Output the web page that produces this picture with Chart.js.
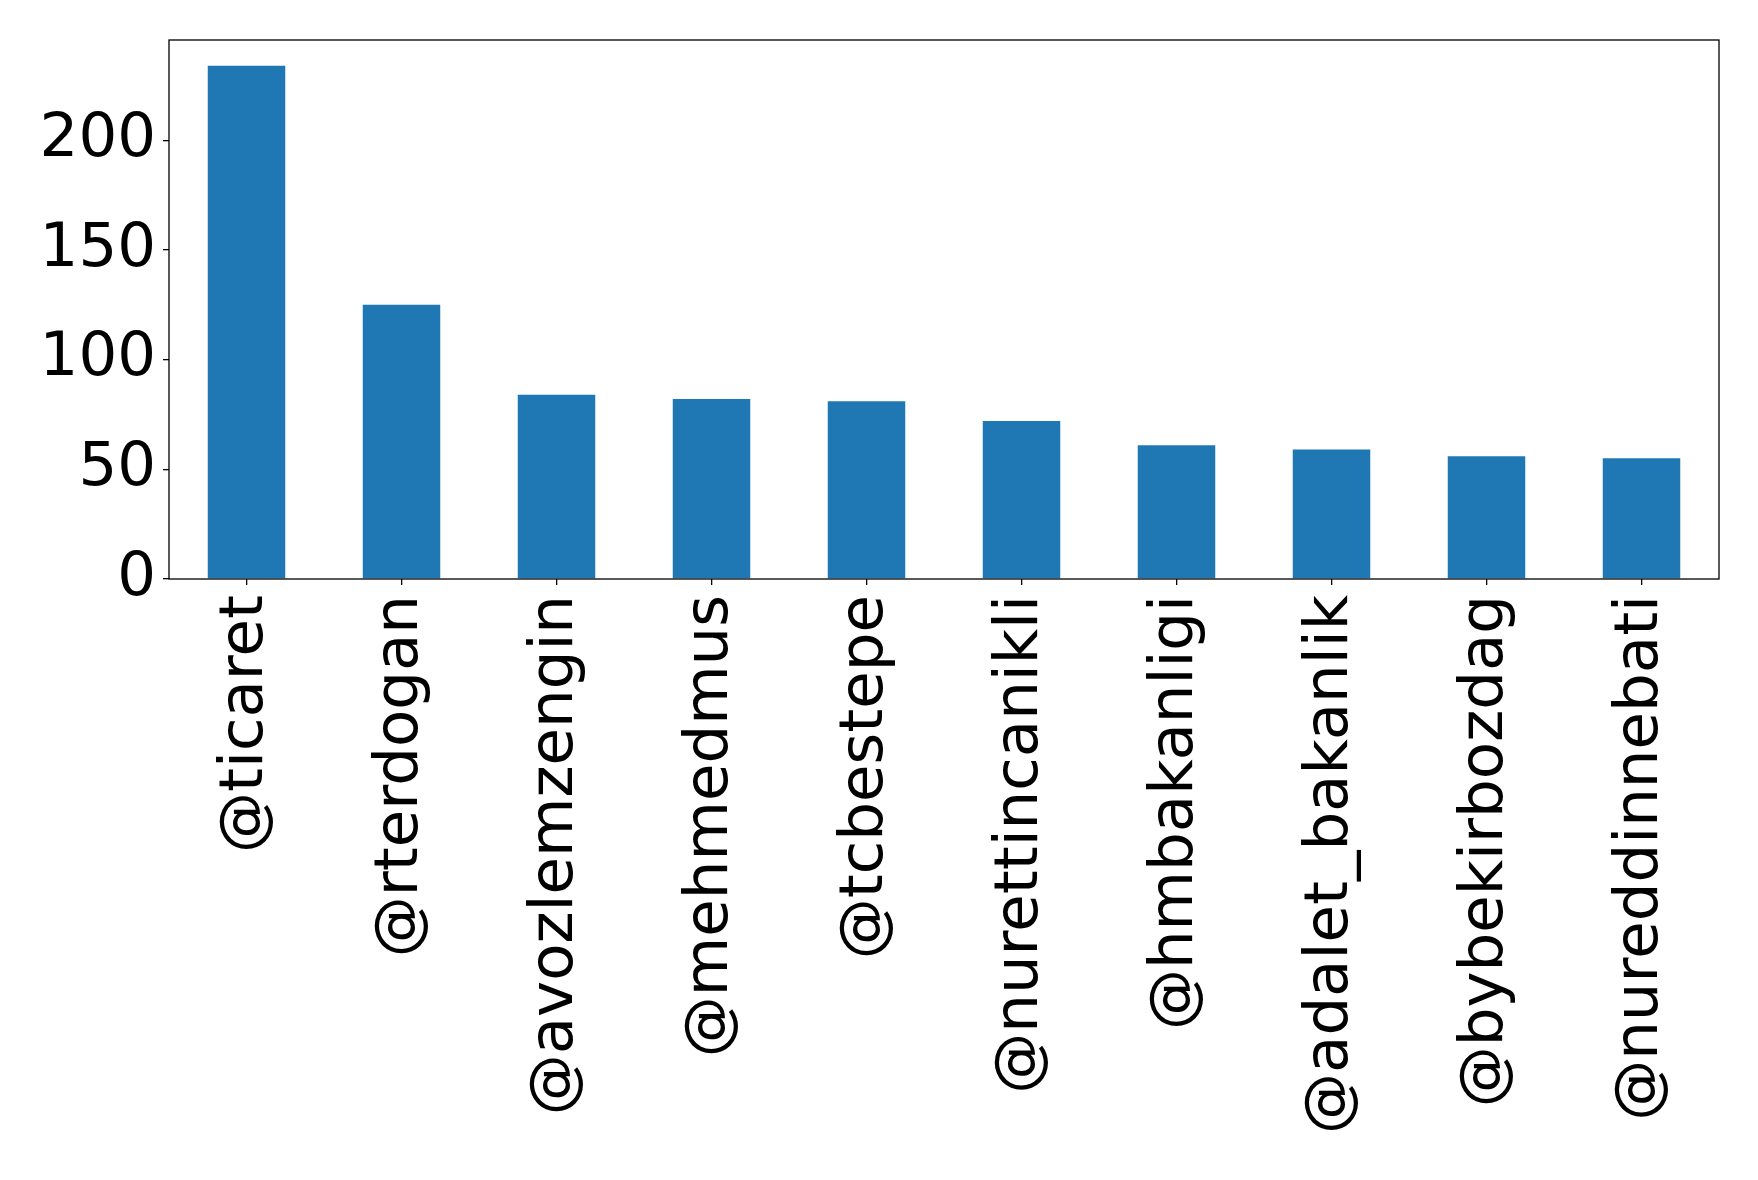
<!DOCTYPE html>
<html>
<head>
<meta charset="utf-8">
<script src="https://cdn.jsdelivr.net/npm/chart.js@4.4.0/dist/chart.umd.min.js"></script>
<style>
  html, body { margin: 0; padding: 0; background: #fff; }
  #wrap { width: 1758px; height: 1180px; }
</style>
</head>
<body>
<div id="wrap"><canvas id="chart" width="1758" height="1180"></canvas></div>
<script>
// accounts and mention counts
const accounts = ['@ticaret', '@rterdogan', '@avozlemzengin', '@mehmedmus', '@tcbestepe',
    '@nurettincanikli', '@hmbakanligi', '@adalet_bakanlik', '@bybekirbozdag', '@nureddinnebati'];
const counts = [234, 125, 84, 82, 81, 72, 61, 59, 56, 55];
const yTicks = [0, 50, 100, 150, 200];

const FONT = { family: 'DejaVu Sans', size: 61 };

// black frame round the plot area
const frame = {
    id: 'frame',
    afterDatasetsDraw(chart) {
        const a = chart.chartArea;
        const ctx = chart.ctx;
        ctx.save();
        ctx.strokeStyle = '#000';
        ctx.lineWidth = 1.3;
        ctx.strokeRect(a.left, a.top, a.right - a.left, a.bottom - a.top);
        ctx.restore();
    }
};

new Chart(document.getElementById('chart'), {
    type: 'bar',
    data: {
        labels: accounts,
        datasets: [{
            data: counts,
            backgroundColor: '#1f77b4',
            categoryPercentage: 1,
            barPercentage: 0.5
        }]
    },
    options: {
        responsive: false,
        animation: false,
        layout: { padding: { top: 40, right: 39, left: 0, bottom: 0 } },
        plugins: { legend: { display: false }, tooltip: { enabled: false } },
        scales: {
            x: {
                grid: { display: true, offset: false, drawOnChartArea: false, tickLength: 6, color: '#000', lineWidth: 1.3 },
                border: { display: false },
                ticks: { color: '#000', font: FONT, minRotation: 90, maxRotation: 90, padding: 10, autoSkip: false },
                afterFit(s) { s.height = 601; }
            },
            y: {
                min: 0,
                max: 245.7,
                grid: { display: true, drawOnChartArea: false, tickLength: 6, color: '#000', lineWidth: 1.3 },
                border: { display: false },
                ticks: { color: '#000', font: FONT, padding: 7 },
                afterBuildTicks(s) { s.ticks = yTicks.map(v => ({ value: v })); },
                afterFit(s) { s.width = 169; s.paddingTop = 0; s.paddingBottom = 0; }
            }
        }
    },
    plugins: [frame]
});
</script>
</body>
</html>
